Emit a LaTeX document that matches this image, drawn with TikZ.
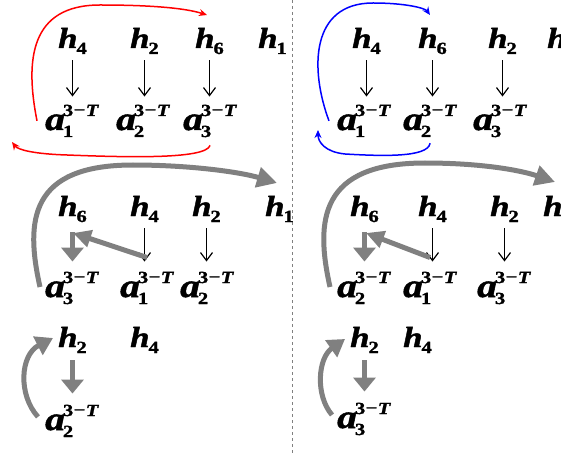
\documentclass[tikz,border=0pt]{standalone}
\usepackage{fontspec}
\usetikzlibrary{arrows.meta}
\newfontfamily\symf[FakeStretch=1.2,FakeBold=1.5]{Liberation Serif}
\newcommand\hsym[1]{{\symf\bfseries\itshape\fontsize{29}{29}\selectfont h\kern-1pt\raisebox{-6pt}{\upshape\fontsize{17}{17}\selectfont #1}}}
\newcommand\asym[1]{{\symf\bfseries\itshape\fontsize{33}{33}\selectfont a}\kern-2pt\rlap{\raisebox{-7pt}{\symf\bfseries\fontsize{17}{17}\selectfont #1}}\raisebox{14pt}{\symf\bfseries\fontsize{17}{17}\selectfont 3\kern0.5pt\raisebox{0.5pt}{−}\kern0.5pt\textit{T}}}
\begin{document}
\begin{tikzpicture}[x=1pt,y=-1pt,
  sym/.style={inner sep=0pt,anchor=base west},
  thinarr/.style={draw=black,line width=1.2pt,-{Straight Barb[length=8pt,width=12pt,line width=1.2pt]}},
  redarr/.style={draw=red,line width=1.5pt,-{Stealth[length=8pt,width=7pt]}},
  bluearr/.style={draw=blue,line width=1.5pt,-{Stealth[length=8pt,width=7pt]}},
  gbase/.style={draw=gray,line width=5pt},
  gbig/.style={gbase,-{Triangle[length=20pt,width=20pt]}},
  gdown/.style={gbase,-{Triangle[length=14pt,width=22pt]}},
  gdiag/.style={gbase,-{Triangle[length=18pt,width=17pt]}},
  gcurve/.style={gbase,-{Triangle[length=17pt,width=20pt]}}]
\clip (0,0) rectangle (561,454);
\fill[white] (0,0) rectangle (561,454);
\draw[gray,dashed,line width=1pt] (292,0) -- (292,454);
% top-left
\node[sym] (tl-h4) at (58,48) {\hsym{4}};
\node[sym] (tl-h2) at (130,48) {\hsym{2}};
\node[sym] (tl-h6) at (195,48) {\hsym{6}};
\node[sym] (tl-h1) at (258,48) {\hsym{1}};
\node[sym] (tl-a1) at (45,130) {\asym{1}};
\node[sym] (tl-a2) at (116,130) {\asym{2}};
\node[sym] (tl-a3) at (183,130) {\asym{3}};
\foreach \h/\a in {tl-h4/tl-a1,tl-h2/tl-a2,tl-h6/tl-a3}
  \draw[thinarr,shorten <=6pt,shorten >=8pt] (\h.south) -- (\h.south |- \a.north);
\coordinate (tl-r1) at (207,15);
\coordinate (tl-r2) at (12,142);
\draw[redarr] ([xshift=-8pt]tl-a1.west) .. controls (25,60) and (30,5) .. (100,5) .. controls (150,5) and (185,8) .. (tl-r1);
\draw[redarr] ([yshift=-8pt]tl-a3.south) .. controls (206,160) and (120,157) .. (67,155) .. controls (35,154) and (18,150) .. (tl-r2);
% top-right
\node[sym] (tr-h4) at (352,48) {\hsym{4}};
\node[sym] (tr-h6) at (418,48) {\hsym{6}};
\node[sym] (tr-h2) at (488,48) {\hsym{2}};
\node[sym] (tr-h1) at (547,48) {\hsym{1}};
\node[sym] (tr-a1) at (337,130) {\asym{1}};
\node[sym] (tr-a2) at (403,130) {\asym{2}};
\node[sym] (tr-a3) at (473,130) {\asym{3}};
\foreach \h/\a in {tr-h4/tr-a1,tr-h6/tr-a2,tr-h2/tr-a3}
  \draw[thinarr,shorten <=6pt,shorten >=8pt] (\h.south) -- (\h.south |- \a.north);
\coordinate (tr-b1) at (430,15);
\coordinate (tr-b2) at (318,130);
\draw[bluearr] ([xshift=-8pt]tr-a1.west) .. controls (310,70) and (310,3) .. (373,3) .. controls (405,3) and (425,8) .. (tr-b1);
\draw[bluearr] ([yshift=-6pt]tr-a2.south) .. controls (428,158) and (380,156) .. (345,154) .. controls (325,152) and (318,142) .. (tr-b2);
% middle-left
\node[sym] (ml-h6) at (58,216) {\hsym{6}};
\node[sym] (ml-h4) at (130,216) {\hsym{4}};
\node[sym] (ml-h2) at (192,216) {\hsym{2}};
\node[sym] (ml-h1) at (265,216) {\hsym{1}};
\node[sym] (ml-a3) at (45,297) {\asym{3}};
\node[sym] (ml-a1) at (120,297) {\asym{1}};
\node[sym] (ml-a2) at (180,297) {\asym{2}};
\foreach \h/\a in {ml-h4/ml-a1,ml-h2/ml-a2}
  \draw[thinarr,shorten <=6pt,shorten >=10pt] (\h.south) -- (\h.south |- \a.north);
\draw[gdown,shorten <=10pt,shorten >=10pt] (ml-h6.south) -- (ml-h6.south |- ml-a3.north);
\coordinate (ml-t) at (73,233);
\draw[gdiag] ([yshift=14pt]ml-a1.north) -- (ml-t);
\coordinate (ml-s) at (40,287);
\coordinate (ml-e) at (277,183);
\draw[gbig] (ml-s) .. controls (25,220) and (30,165) .. (133,165) .. controls (190,165) and (240,172) .. (ml-e);
% middle-right
\node[sym] (mr-h6) at (350,216) {\hsym{6}};
\node[sym] (mr-h4) at (418,216) {\hsym{4}};
\node[sym] (mr-h2) at (490,216) {\hsym{2}};
\node[sym] (mr-h1) at (543,216) {\hsym{1}};
\node[sym] (mr-a2) at (337,297) {\asym{2}};
\node[sym] (mr-a1) at (403,297) {\asym{1}};
\node[sym] (mr-a3) at (477,297) {\asym{3}};
\foreach \h/\a in {mr-h4/mr-a1,mr-h2/mr-a3}
  \draw[thinarr,shorten <=6pt,shorten >=10pt] (\h.south) -- (\h.south |- \a.north);
\draw[gdown,shorten <=10pt,shorten >=10pt] (mr-h6.south) -- (mr-h6.south |- mr-a2.north);
\coordinate (mr-t) at (366,233);
\draw[gdiag] ([yshift=14pt]mr-a1.north) -- (mr-t);
\coordinate (mr-s) at (330,287);
\coordinate (mr-e) at (555,182);
\draw[gbig] (mr-s) .. controls (315,220) and (320,163) .. (425,163) .. controls (480,163) and (520,170) .. (mr-e);
% bottom-left
\node[sym] (bl-h2) at (58,347) {\hsym{2}};
\node[sym] (bl-h4) at (130,347) {\hsym{4}};
\node[sym] (bl-a2) at (45,430) {\asym{2}};
\draw[gdown,shorten <=7pt,shorten >=11pt] (bl-h2.south) -- (bl-h2.south |- bl-a2.north);
\coordinate (bl-t) at (53,338);
\draw[gcurve] ([xshift=-7pt,yshift=4pt]bl-a2.west) .. controls (18,395) and (20,355) .. (bl-t);
% bottom-right
\node[sym] (br-h2) at (350,347) {\hsym{2}};
\node[sym] (br-h4) at (403,347) {\hsym{4}};
\node[sym] (br-a3) at (337,428) {\asym{3}};
\draw[gdown,shorten <=7pt,shorten >=11pt] (br-h2.south) -- (br-h2.south |- br-a3.north);
\coordinate (br-t) at (345,339);
\draw[gcurve] ([xshift=-5pt,yshift=4pt]br-a3.west) .. controls (315,395) and (318,358) .. (br-t);
\end{tikzpicture}
\end{document}
